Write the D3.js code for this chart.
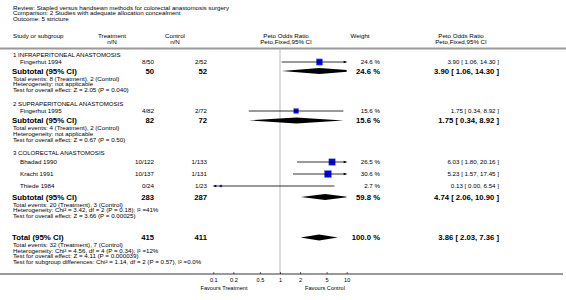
<!DOCTYPE html>
<html><head><meta charset="utf-8">
<script src="https://cdn.jsdelivr.net/npm/d3@7"></script>
<style>
html,body{margin:0;padding:0;background:#fff;}
svg{display:block;font-family:"Liberation Sans",Arial,Helvetica,sans-serif;}
</style></head>
<body>
<svg id="c" width="566" height="300"></svg>
<script>
// ---------- data ----------
const headerLines = ["Review:  Stapled versus handsewn methods for colorectal anastomosis surgery",
  "Comparison:  2 Studies with adequate allocation concealment",
  "Outcome:  5 stricture"];
const groupNames = ["1 INFRAPERITONEAL ANASTOMOSIS","2 SUPRAPERITONEAL ANASTOMOSIS","3 COLORECTAL ANASTOMOSIS"];
const studyNames = ["Fingerhut 1994","Fingerhut 1995","Bhadad 1990","Kracht 1991","Thiede 1984"];
const studyGroup = [0,1,2,2,2];
const studyTreat = ["8/50","4/82","10/122","10/137","0/24"];
const studyControl = ["2/52","2/72","1/133","1/131","1/23"];
const studyOR = [3.90,1.75,6.03,5.23,0.13];
const studyLo = [1.06,0.34,1.80,1.57,0.00];
const studyHi = [14.30,8.92,20.16,17.45,6.54];
const studyWeight = [24.6,15.6,26.5,30.6,2.7];

const subTreat = [50,82,283];
const subControl = [52,72,287];
const subOR = [3.90,1.75,4.74];
const subLo = [1.06,0.34,2.06];
const subHi = [14.30,8.92,10.90];
const subWeight = [24.6,15.6,59.8];
const subNotes = [
  ["Total events: 8 (Treatment), 2 (Control)","Heterogeneity: not applicable","Test for overall effect: Z = 2.05 (P = 0.040)"],
  ["Total events: 4 (Treatment), 2 (Control)","Heterogeneity: not applicable","Test for overall effect: Z = 0.67 (P = 0.50)"],
  ["Total events: 20 (Treatment), 3 (Control)","Heterogeneity: Chi² = 3.42, df = 2 (P = 0.18); I² =41%","Test for overall effect: Z = 3.66 (P = 0.00025)"]
];
const totTreat = 415, totControl = 411, totOR = 3.86, totLo = 2.03, totHi = 7.36, totWeight = 100.0;
const totNotes = ["Total events: 32 (Treatment), 7 (Control)","Heterogeneity: Chi² = 4.56, df = 4 (P = 0.34); I² =12%",
  "Test for overall effect: Z = 4.11 (P = 0.000039)","Test for subgroup differences: Chi² = 1.14, df = 2 (P = 0.57), I² =0.0%"];
const tickValues = [0.1,0.2,0.5,1,2,5,10];
const tickLabels = ["0.1","0.2","0.5","1","2","5","10"];
const favLeft = "Favours Treatment", favRight = "Favours Control";

// ---------- layout ----------
const svg = d3.select("#c");
const x = d3.scaleLog().domain([0.1,10]).range([213.3,346.7]);
const fmt = d3.format(".2f");
const X = {left:13, indent:20, treat:154, control:207, weight:380, ci:499};
const FS = 6.2, FSB = 7.9, FSBN = 7.7, FSH = 6.1;

function text(t, xx, yy, o={}) {
  return svg.append("text").attr("x",xx).attr("y",yy).text(t)
    .attr("font-size", o.size||FS).attr("font-weight", o.bold?"bold":null)
    .attr("text-anchor", o.anchor||"start").attr("fill", o.fill||"#000");
}

// header
headerLines.forEach((h,i)=>text(h, X.left, 9.5+i*5.8));
text("Study or subgroup", X.left, 37.5);
text("Treatment", 112, 37.5, {anchor:"middle"});
text("n/N", 112, 43.5, {anchor:"middle"});
text("Control", 175, 37.5, {anchor:"middle"});
text("n/N", 175, 43.5, {anchor:"middle"});
text("Peto Odds Ratio", 286, 37.5, {anchor:"middle"});
text("Peto,Fixed,95% CI", 286, 43.5, {anchor:"middle"});
text("Weight", 360, 37.5, {anchor:"middle"});
text("Peto Odds Ratio", 461, 37.5, {anchor:"middle"});
text("Peto,Fixed,95% CI", 461, 43.5, {anchor:"middle"});
svg.append("line").attr("x1",0).attr("x2",566).attr("y1",48.5).attr("y2",48.5).attr("stroke","#999").attr("stroke-width",2);

// vertical line of no effect
const axisY = 274;
svg.append("line").attr("x1",x(1)).attr("x2",x(1)).attr("y1",50).attr("y2",axisY).attr("stroke","#ddd").attr("stroke-width",2);

// clip
svg.append("clipPath").attr("id","pc").append("rect").attr("x",x(0.1)).attr("y",0).attr("width",x(10)-x(0.1)).attr("height",300);
const plot = svg.append("g").attr("clip-path","url(#pc)");

function ciLine(o,l,h,yy){
  const x1 = l>0 ? Math.max(x(l), x(0.1)) : x(0.1);
  const x2 = Math.min(x(h), x(10));
  svg.append("line").attr("x1",x1).attr("x2",x2).attr("y1",yy).attr("y2",yy).attr("stroke","#000").attr("stroke-width",0.8);
  if (l<=0.1) svg.append("path").attr("d",`M${x1},${yy}l3,-1.3v2.6z`).attr("fill","#000");
  if (h>=10) svg.append("path").attr("d",`M${x2},${yy}l-3,-1.3v2.6z`).attr("fill","#000");
}
function square(o,w,yy){
  const s = Math.max(1.5, 1.25*Math.sqrt(w));
  plot.append("rect").attr("x",x(o)-s/2).attr("y",yy-s/2).attr("width",s).attr("height",s)
    .attr("fill","#0000ff").attr("stroke","#7f7fff").attr("stroke-width",0.5);
}
function diamond(o,l,h,yy){
  plot.append("path").attr("d",`M${x(l)},${yy}L${x(o)},${yy-3}L${x(h)},${yy}L${x(o)},${yy+3}Z`).attr("fill","#000");
}
function ciText(o,l,h){ return `${fmt(o)} [ ${fmt(l)}, ${fmt(h)} ]`; }

// groups
const groupY = [57, 106, 155];
const studyY = [[64],[113],[164,176,188]];
const subY = [73.5,123,199.5];
groupNames.forEach((g,gi)=>{
  text(g, X.left, groupY[gi], {size:FSH});
  const idx = studyGroup.map((v,i)=>v===gi?i:-1).filter(i=>i>=0);
  idx.forEach((si,k)=>{
    const yy = studyY[gi][k];
    text(studyNames[si], X.indent, yy);
    text(studyTreat[si], X.treat, yy, {anchor:"end"});
    text(studyControl[si], X.control, yy, {anchor:"end"});
    ciLine(studyOR[si], studyLo[si], studyHi[si], yy-2);
    square(studyOR[si], studyWeight[si], yy-2);
    text(studyWeight[si].toFixed(1)+" %", X.weight, yy, {anchor:"end"});
    text(ciText(studyOR[si],studyLo[si],studyHi[si]), X.ci, yy, {anchor:"end"});
  });
  const sy = subY[gi];
  text("Subtotal (95% CI)", X.left-1, sy, {size:FSB, bold:true});
  text(subTreat[gi], X.treat, sy, {size:FSBN, bold:true, anchor:"end"});
  text(subControl[gi], X.control, sy, {size:FSBN, bold:true, anchor:"end"});
  diamond(subOR[gi], subLo[gi], subHi[gi], sy-2.6);
  text(subWeight[gi].toFixed(1)+" %", X.weight, sy, {size:FSBN, bold:true, anchor:"end"});
  text(ciText(subOR[gi],subLo[gi],subHi[gi]), X.ci, sy, {size:FSBN, bold:true, anchor:"end"});
  subNotes[gi].forEach((n,k)=>text(n, X.left, sy+7+k*5.8));
});

// total
const ty = 240;
text("Total (95% CI)", X.left-1, ty, {size:FSB, bold:true});
text(totTreat, X.treat, ty, {size:FSBN, bold:true, anchor:"end"});
text(totControl, X.control, ty, {size:FSBN, bold:true, anchor:"end"});
diamond(totOR, totLo, totHi, ty-2.6);
text(totWeight.toFixed(1)+" %", X.weight, ty, {size:FSBN, bold:true, anchor:"end"});
text(ciText(totOR,totLo,totHi), X.ci, ty, {size:FSBN, bold:true, anchor:"end"});
totNotes.forEach((n,k)=>text(n, X.left, ty+7+k*5.5));

// axis
svg.append("line").attr("x1",0).attr("x2",563).attr("y1",axisY).attr("y2",axisY).attr("stroke","#000").attr("stroke-width",0.8);
const ax = d3.axisBottom(x).tickValues(tickValues).tickFormat((d,i)=>tickLabels[i]).tickSize(2).tickSizeOuter(0);
const ag = svg.append("g").attr("transform",`translate(0,${axisY})`).call(ax);
ag.select(".domain").remove();
ag.selectAll("text").attr("font-size",5.6).attr("font-family","Liberation Sans, Arial, sans-serif").attr("dy","0.6em");
ag.selectAll("line").attr("stroke","#000").attr("stroke-width",0.6).attr("y2",-2);
text(favLeft, 224, 290, {anchor:"middle", size:5.6});
text(favRight, 325, 290, {anchor:"middle", size:5.6});
</script>
</body></html>
